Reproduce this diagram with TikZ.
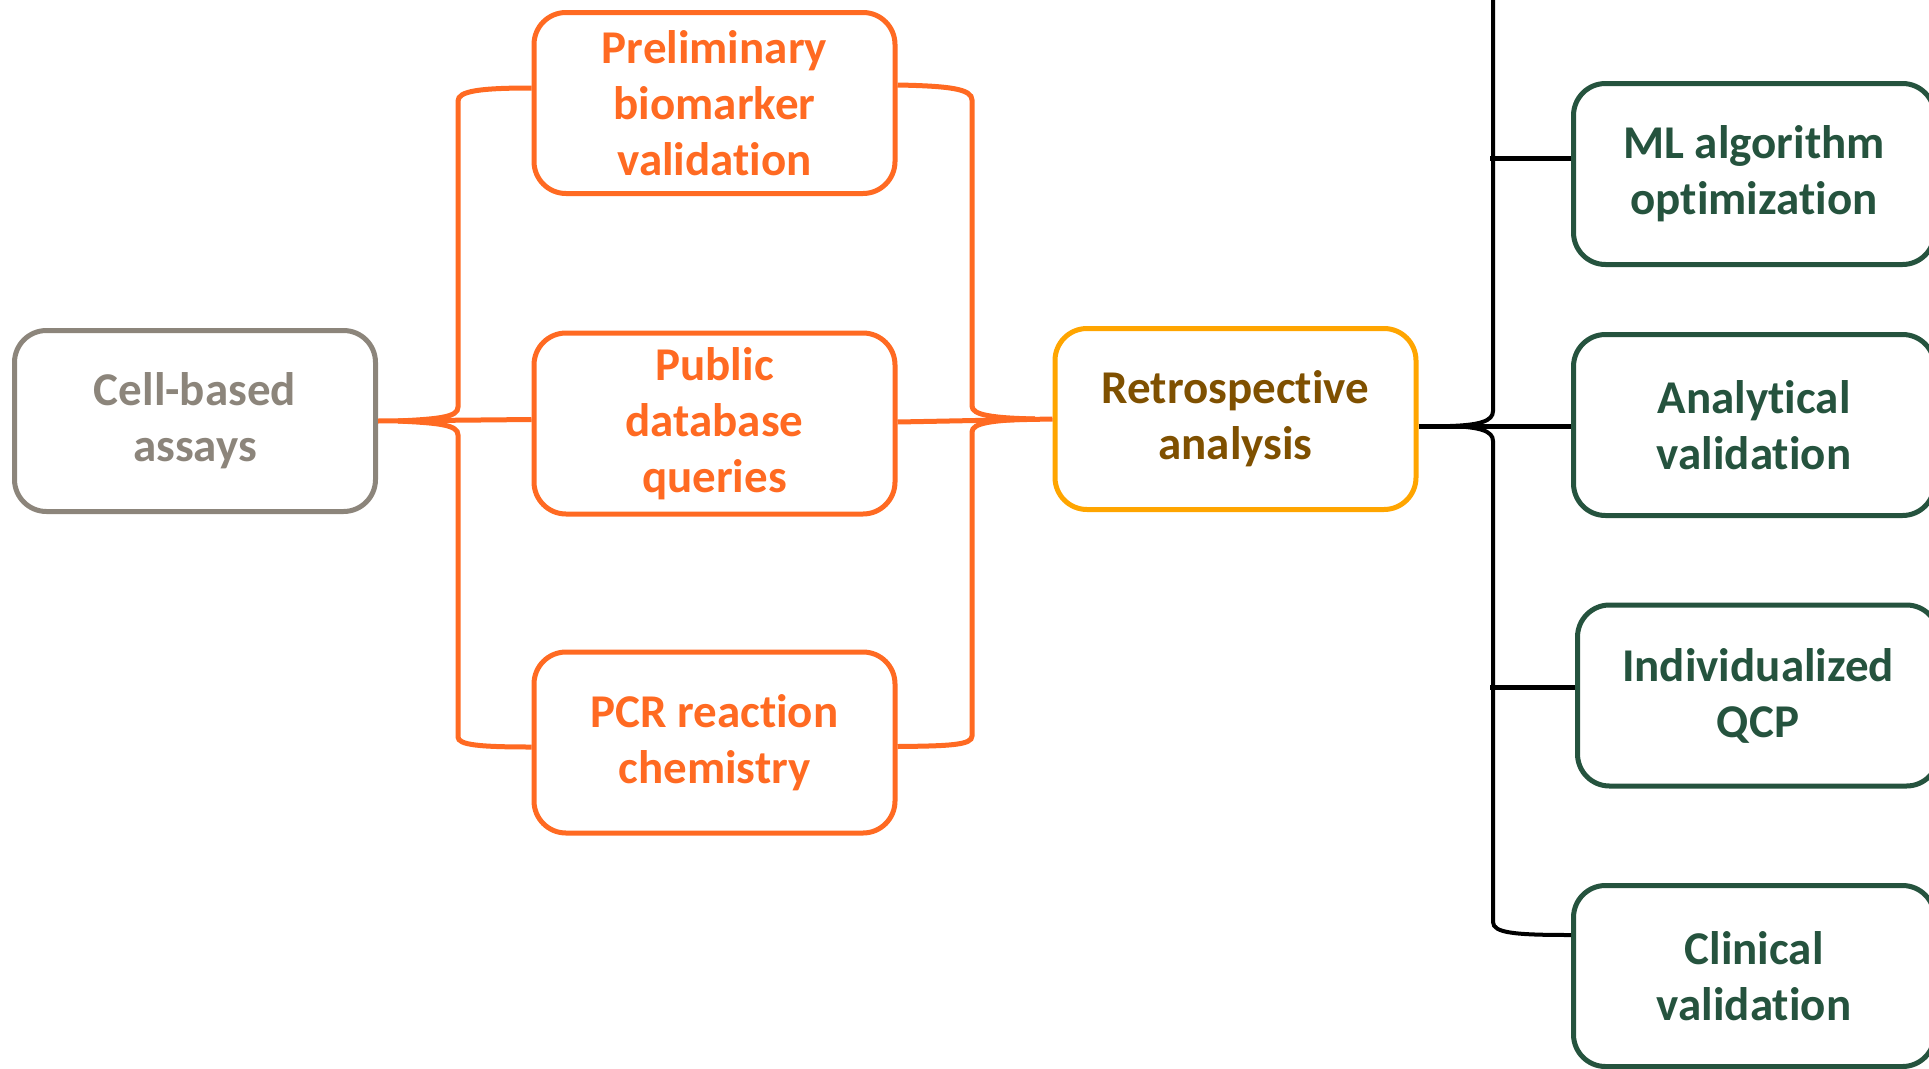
\documentclass[tikz,border=0pt]{standalone}
\usepackage{fontspec}
\setmainfont[Ligatures={NoCommon}]{Carlito}
\definecolor{cOr}{HTML}{FF6A22}
\definecolor{cGr}{HTML}{8C857B}
\definecolor{cYe}{HTML}{FFA500}
\definecolor{cBr}{HTML}{7F5000}
\definecolor{cGn}{HTML}{25533E}
\tikzset{
  box/.style={draw, line width=5pt, rounded corners=32pt, minimum width=361pt,
    minimum height=181pt, align=center, inner sep=0pt,
    font=\fontsize{47}{56}\selectfont\bfseries},
  obox/.style={box, draw=cOr, text=cOr},
  gbox/.style={box, draw=cGr, text=cGr},
  ybox/.style={box, draw=cYe, text=cBr},
  nbox/.style={box, draw=cGn, text=cGn},
  oline/.style={draw=cOr, line width=5pt},
  bline/.style={draw=black, line width=4pt},
  bhline/.style={draw=black, line width=5pt},
}
\begin{document}
\begin{tikzpicture}[x=1pt,y=-1pt]
\useasboundingbox (0,0) rectangle (1929,1068);
\clip (0,0) rectangle (1929,1068);
% nodes
\node[gbox] (cell) at (195,421) {Cell-based\\assays};
\node[obox] (prelim) at (714.5,103) {Preliminary\\biomarker\\validation};
\node[obox] (public) at (714.5,423.5) {Public\\database\\queries};
\node[obox] (pcr) at (714.5,742.5) {PCR reaction\\chemistry};
\node[ybox] (retro) at (1235.5,419) {Retrospective\\analysis};
\node[nbox] (ml) at (1754,174) {ML algorithm\\optimization};
\node[nbox] (anal) at (1754,425) {Analytical\\validation};
\node[nbox] (indiv) at (1758,695.5) {Individualized\\QCP};
\node[nbox] (clin) at (1754,976) {Clinical\\validation};
% left orange brace
\coordinate (ltip) at (398,421);
\draw[oline] (cell.east) -- ([yshift=4pt]public.west);
\draw[oline] (ltip) .. controls (440,419) and (458,417) .. (458,407) -- (458,101)
  .. controls (458,91) and (480,88) .. ([yshift=15pt]prelim.west);
\draw[oline] (ltip) .. controls (440,423) and (458,425) .. (458,435) -- (458,737)
  .. controls (458,745) and (480,747) .. ([yshift=-4.5pt]pcr.west);
% right orange brace
\coordinate (rtip) at (1035,419);
\draw[oline] ([yshift=1.5pt]public.east) -- (retro.west);
\draw[oline] ([yshift=18pt]prelim.east) .. controls (950,86) and (972,89) .. (972,100) -- (972,406)
  .. controls (972,415) and (992,418) .. (rtip);
\draw[oline] (rtip) .. controls (992,420) and (972,423) .. (972,432) -- (972,736)
  .. controls (972,745) and (950,746) .. ([yshift=-4pt]pcr.east);
% black tree
\coordinate (btip) at (1450,426);
\draw[bhline] ([yshift=-7pt]retro.east) -- ([yshift=-1pt]anal.west);
\draw[bline] (btip) .. controls (1480,425) and (1493,421) .. (1493,411) -- (1493,-10);
\draw[bline] (btip) .. controls (1480,427) and (1493,431) .. (1493,441) -- (1493,922)
  .. controls (1493,933) and (1515,935) .. ([yshift=41pt]clin.west);
\draw[bhline] ([yshift=16pt]ml.west) -- ++(-81,0);
\draw[bhline] ([yshift=8.5pt]indiv.west) -- ++(-85,0);
\end{tikzpicture}
\end{document}
